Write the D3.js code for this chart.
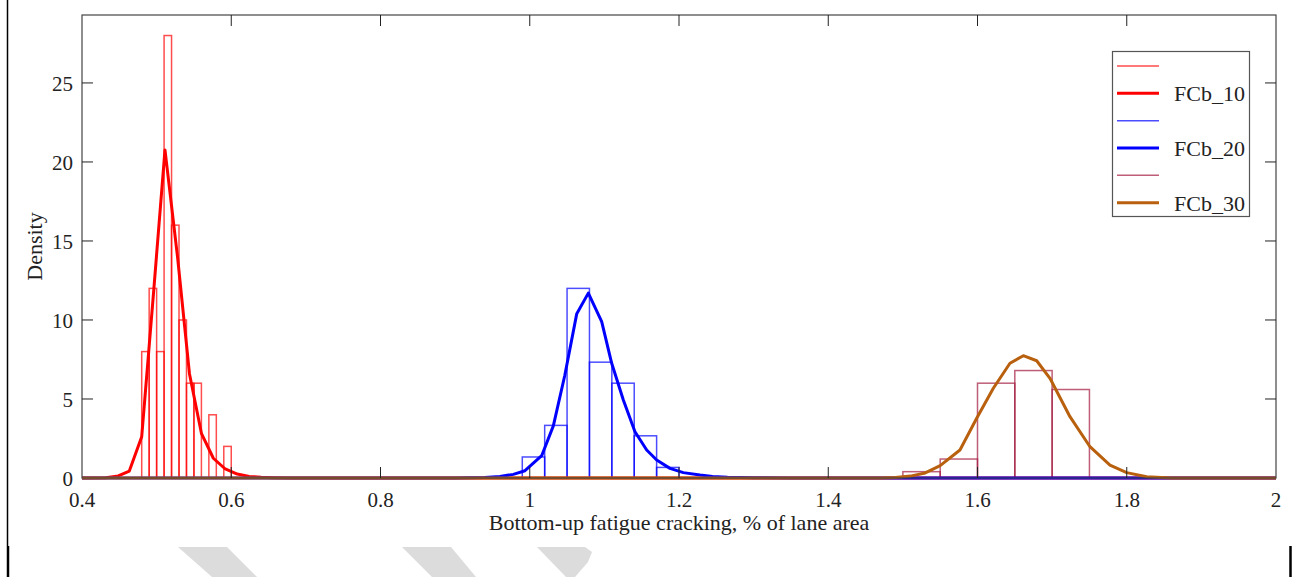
<html>
<head>
  <script src="https://cdn.jsdelivr.net/npm/d3@7"></script>
  <meta charset="utf-8">
  <title>FCb density</title>
<style>
body { margin: 0; background: #fff; }
svg { background: #fff; display: block; }
text { font-family: "Liberation Serif", "Times New Roman", serif; fill: #222; }
</style>
</head>
<body>
<script>
// axis ticks
var xTicks = [0.4, 0.6, 0.8, 1, 1.2, 1.4, 1.6, 1.8, 2];
var xTickLabels = ['0.4', '0.6', '0.8', '1', '1.2', '1.4', '1.6', '1.8', '2'];
var yTicks = [0, 5, 10, 15, 20, 25];

// histogram bin edges and densities
var fcb10Edges = [0.48, 0.49, 0.50, 0.51, 0.52, 0.53, 0.54, 0.55, 0.56, 0.57, 0.58, 0.59, 0.60];
var fcb10Density = [8, 12, 8, 28, 16, 10, 6, 6, 0, 4, 0, 2];
var fcb20Edges = [0.99, 1.02, 1.05, 1.08, 1.11, 1.14, 1.17, 1.20];
var fcb20Density = [1.33, 3.33, 12, 7.33, 6, 2.67, 0.67];
var fcb30Edges = [1.50, 1.55, 1.60, 1.65, 1.70, 1.75];
var fcb30Density = [0.4, 1.2, 6, 6.8, 5.6];

// fitted curves
var fcb10CurveX = [0.4, 0.432, 0.4486, 0.4634, 0.48, 0.496, 0.5112, 0.528, 0.544, 0.56, 0.576, 0.592, 0.608, 0.624, 0.64, 0.656, 0.68, 2.0];
var fcb10CurveY = [0, 0.01, 0.13, 0.44, 2.61, 11.8, 20.76, 14.0, 6.6, 2.83, 1.25, 0.57, 0.25, 0.1, 0.05, 0.02, 0, 0];
var fcb20CurveX = [0.4, 0.9, 0.94, 0.96, 0.978, 0.9936, 1.016, 1.0316, 1.047, 1.063, 1.0785, 1.0964, 1.1098, 1.1254, 1.141, 1.1567, 1.1701, 1.1879, 1.2058, 1.2281, 1.245, 1.265, 1.3, 1.35, 2.0];
var fcb20CurveY = [0, 0, 0.03, 0.1, 0.23, 0.46, 1.41, 3.3, 6.5, 10.4, 11.7, 9.9, 7.26, 4.94, 2.93, 1.77, 1.14, 0.61, 0.34, 0.19, 0.1, 0.05, 0.02, 0, 0];
var fcb30CurveX = [0.4, 1.47, 1.49, 1.51, 1.53, 1.55, 1.5765, 1.5989, 1.6212, 1.6435, 1.6614, 1.6793, 1.6971, 1.7239, 1.7507, 1.7775, 1.7999, 1.8267, 1.86, 2.0];
var fcb30CurveY = [0, 0, 0.03, 0.12, 0.32, 0.78, 1.77, 3.78, 5.68, 7.26, 7.74, 7.42, 6.31, 3.88, 1.98, 0.82, 0.34, 0.08, 0, 0];

var legendLabels = ['', 'FCb_10', '', 'FCb_20', '', 'FCb_30'];

var width = 1292,
    height = 577;
var margin = {top: 15, right: 16, bottom: 99, left: 82};

var svg = d3.select('body').append('svg')
  .attr('width', width)
  .attr('height', height);

var x = d3.scaleLinear().domain([0.4, 2]).range([margin.left, width - margin.right]);
var y = d3.scaleLinear().domain([0, 29.3]).range([height - margin.bottom, margin.top]);

// watermark bits at the bottom
var marks = [
  [[178, 547], [227, 547], [257, 577], [212, 577]],
  [[402, 547], [451, 547], [476, 577], [432, 577]],
  [[537, 547], [585, 547], [592, 552], [588, 562], [575, 577], [566, 577]]
];
svg.selectAll('polygon.wm')
  .data(marks)
  .enter()
  .append('polygon')
  .attr('class', 'wm')
  .attr('points', function (d) { return d.join(' '); })
  .style('fill', '#dcdcdc');

// page frame pieces
svg.append('line').attr('x1', 7.5).attr('x2', 7.5).attr('y1', 0).attr('y2', 546)
  .style('stroke', '#000').style('stroke-width', 1.5);
svg.append('line').attr('x1', 8).attr('x2', 8).attr('y1', 546).attr('y2', 577)
  .style('stroke', '#000').style('stroke-width', 2.5);
svg.append('line').attr('x1', 1290.5).attr('x2', 1290.5).attr('y1', 546).attr('y2', 577)
  .style('stroke', '#000').style('stroke-width', 2.5);

var plot = svg.append('g');

function bins(edges, dens) {
  return dens.map(function (v, i) { return {x0: edges[i], x1: edges[i + 1], v: v}; })
    .filter(function (d) { return d.v > 0; });
}

function drawHist(edges, dens, color) {
  plot.append('g').selectAll('rect')
    .data(bins(edges, dens))
    .enter()
    .append('rect')
    .attr('x', function (d) { return x(d.x0); })
    .attr('y', function (d) { return y(d.v); })
    .attr('width', function (d) { return x(d.x1) - x(d.x0); })
    .attr('height', function (d) { return y(0) - y(d.v); })
    .style('fill', 'none')
    .style('stroke', color)
    .style('stroke-opacity', 0.7)
    .style('stroke-width', 1.5);
}

var line = d3.line()
  .x(function (d) { return x(d[0]); })
  .y(function (d) { return y(d[1]); });

function drawCurve(xs, ys, color) {
  plot.append('path')
    .datum(d3.zip(xs, ys))
    .attr('d', line)
    .style('fill', 'none')
    .style('stroke', color)
    .style('stroke-width', 3)
    .style('stroke-linejoin', 'round');
}

var red = '#ff0000', blue = '#0000ff', maroon = '#a3193f', brown = '#b8600e';

// bars first, then the fitted curves on top
drawHist(fcb10Edges, fcb10Density, red);
drawHist(fcb20Edges, fcb20Density, blue);
drawHist(fcb30Edges, fcb30Density, maroon);
drawCurve(fcb10CurveX, fcb10CurveY, red);
drawCurve(fcb20CurveX, fcb20CurveY, blue);
drawCurve(fcb30CurveX, fcb30CurveY, brown);

// axes box with inward ticks
var x0 = margin.left, x1 = width - margin.right, y0 = height - margin.bottom, y1 = margin.top;
svg.append('rect')
  .attr('x', x0).attr('y', y1)
  .attr('width', x1 - x0).attr('height', y0 - y1)
  .style('fill', 'none').style('stroke', '#444').style('stroke-width', 1.2);

var tickLen = 11;
svg.append('g').selectAll('line')
  .data(xTicks.slice(1, -1))
  .enter().append('line')
  .attr('x1', function (d) { return x(d); }).attr('x2', function (d) { return x(d); })
  .attr('y1', y0).attr('y2', y0 - tickLen)
  .style('stroke', '#222');
svg.append('g').selectAll('line')
  .data(xTicks.slice(1, -1))
  .enter().append('line')
  .attr('x1', function (d) { return x(d); }).attr('x2', function (d) { return x(d); })
  .attr('y1', y1).attr('y2', y1 + tickLen)
  .style('stroke', '#222');
svg.append('g').selectAll('line')
  .data(yTicks.slice(1))
  .enter().append('line')
  .attr('x1', x0).attr('x2', x0 + tickLen)
  .attr('y1', function (d) { return y(d); }).attr('y2', function (d) { return y(d); })
  .style('stroke', '#222');
svg.append('g').selectAll('line')
  .data(yTicks.slice(1))
  .enter().append('line')
  .attr('x1', x1).attr('x2', x1 - tickLen)
  .attr('y1', function (d) { return y(d); }).attr('y2', function (d) { return y(d); })
  .style('stroke', '#222');

svg.append('g').selectAll('text')
  .data(xTicks)
  .enter().append('text')
  .attr('x', function (d) { return x(d); })
  .attr('y', 507)
  .attr('text-anchor', 'middle')
  .style('font-size', '21px')
  .text(function (d, i) { return xTickLabels[i]; });

svg.append('g').selectAll('text')
  .data(yTicks)
  .enter().append('text')
  .attr('x', 73)
  .attr('y', function (d) { return y(d) + 8; })
  .attr('text-anchor', 'end')
  .style('font-size', '21px')
  .text(function (d) { return d; });

svg.append('text')
  .attr('x', (x0 + x1) / 2)
  .attr('y', 530)
  .attr('text-anchor', 'middle')
  .style('font-size', '22px')
  .text('Bottom-up fatigue cracking, % of lane area');

svg.append('text')
  .attr('transform', 'translate(42,' + ((y0 + y1) / 2) + ') rotate(-90)')
  .attr('text-anchor', 'middle')
  .style('font-size', '22px')
  .text('Density');

// legend
var legend = svg.append('g');
legend.append('rect')
  .attr('x', 1112.5).attr('y', 51.5)
  .attr('width', 137).attr('height', 165)
  .style('fill', '#fff').style('stroke', '#555').style('stroke-width', 1.2);

var legendColors = [red, red, blue, blue, maroon, brown];
var rowY = d3.scalePoint().domain(d3.range(legendLabels.length)).range([66, 202.7]);
var items = legend.selectAll('g.item')
  .data(legendLabels)
  .enter().append('g')
  .attr('class', 'item')
  .attr('transform', function (d, i) { return 'translate(0,' + rowY(i) + ')'; });
items.append('line')
  .attr('x1', 1117).attr('x2', 1159)
  .attr('y1', 0).attr('y2', 0)
  .style('stroke', function (d, i) { return legendColors[i]; })
  .style('stroke-opacity', function (d, i) { return i % 2 === 0 ? 0.7 : 1; })
  .style('stroke-width', function (d, i) { return i % 2 === 0 ? 1.5 : 3; });
items.append('text')
  .attr('x', 1174)
  .attr('y', 8)
  .style('font-size', '22px')
  .text(function (d) { return d; });
</script>
</body>
</html>
